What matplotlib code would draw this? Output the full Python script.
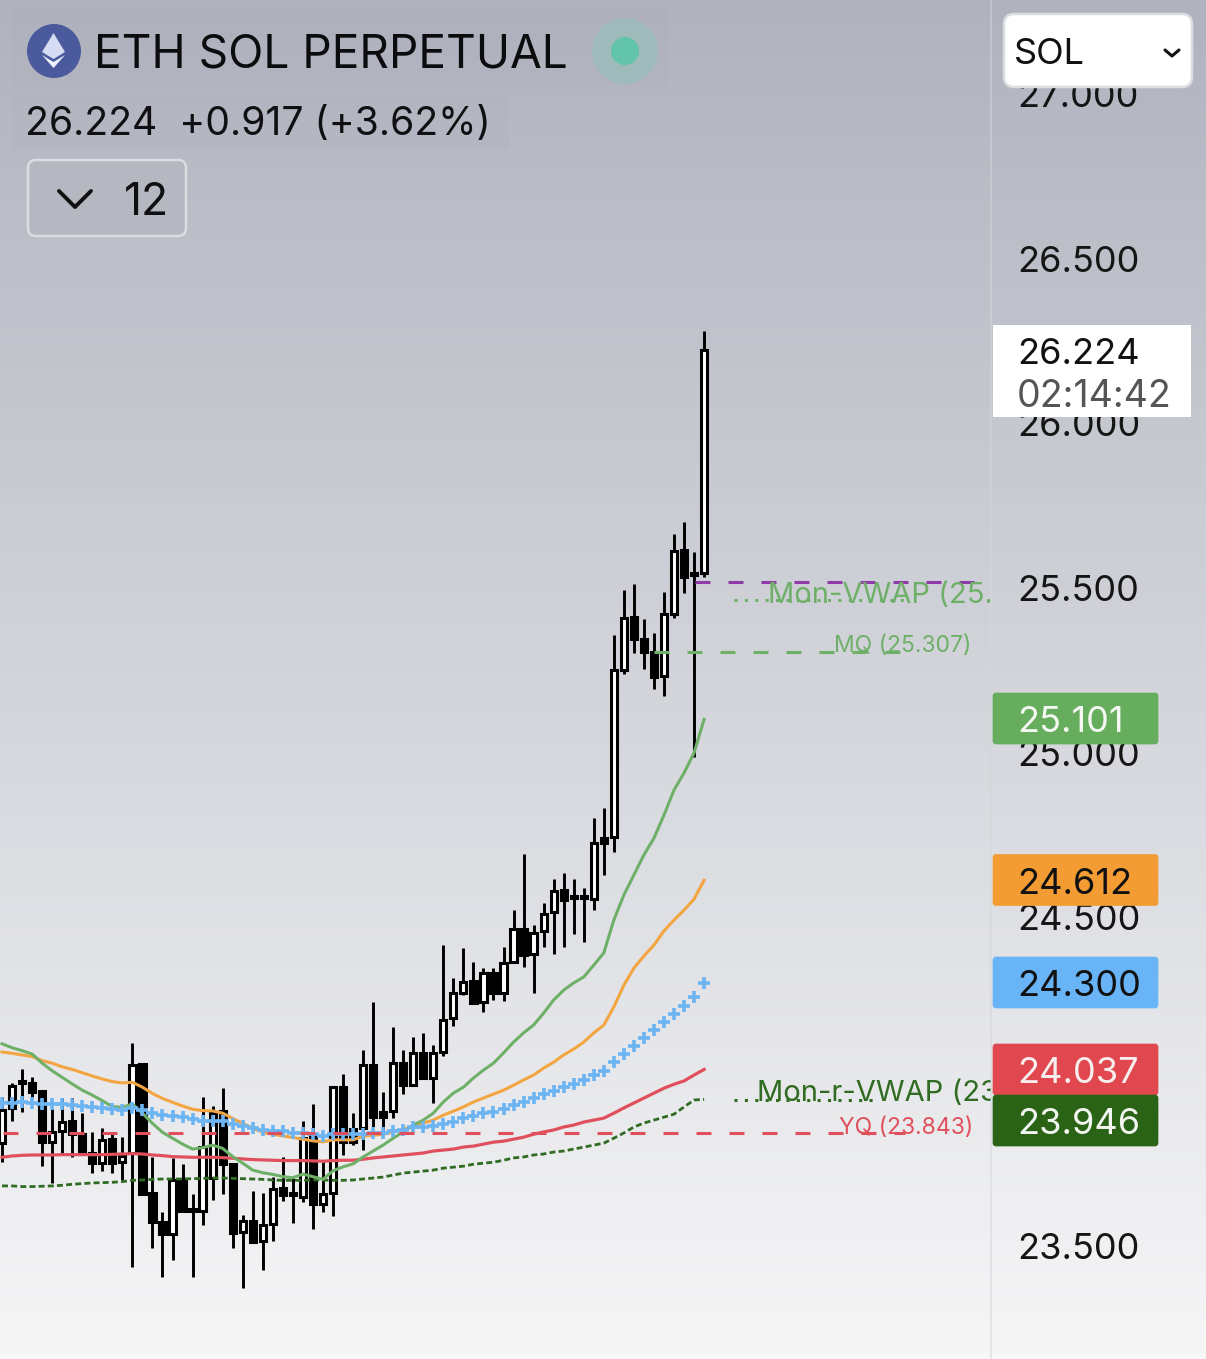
import numpy as np
import matplotlib
matplotlib.use('Agg')
import matplotlib.pyplot as plt
from matplotlib.patches import Circle, FancyBboxPatch, Polygon, Rectangle

plt.rcParams['font.family'] = ['Inter', 'DejaVu Sans']

# candles, oldest first (price)
opens = [23.813, 23.920, 24.002, 23.996, 23.971, 23.816, 23.850, 23.880, 23.840, 23.783,
         23.752, 23.825, 23.755, 23.783, 24.053, 23.661, 23.573, 23.536, 23.704, 23.612,
         23.606, 23.707, 23.910, 23.749, 23.543, 23.576, 23.515, 23.567, 23.676, 23.661,
         23.649, 23.834, 23.628, 23.661, 23.983, 23.856, 23.859, 24.050, 23.908, 23.910,
         24.056, 23.989, 24.087, 24.011, 24.090, 24.193, 24.269, 24.306, 24.242, 24.330,
         24.269, 24.363, 24.464, 24.388, 24.458, 24.515, 24.582, 24.564, 24.564, 24.555,
         24.740, 24.743, 25.251, 25.412, 25.345, 25.306, 25.233, 25.421, 25.616, 25.546,
         25.546]
closes = [23.914, 23.987, 23.996, 23.968, 23.816, 23.847, 23.877, 23.840, 23.783, 23.752,
          23.822, 23.752, 23.774, 24.050, 23.658, 23.573, 23.536, 23.701, 23.606, 23.606,
          23.801, 23.904, 23.749, 23.540, 23.576, 23.512, 23.564, 23.673, 23.655, 23.655,
          23.828, 23.628, 23.658, 23.983, 23.816, 23.816, 24.050, 23.892, 23.892, 24.056,
          23.989, 24.087, 24.011, 24.087, 24.187, 24.269, 24.303, 24.239, 24.330, 24.269,
          24.360, 24.464, 24.385, 24.452, 24.509, 24.579, 24.552, 24.558, 24.558, 24.725,
          24.725, 25.251, 25.409, 25.345, 25.306, 25.230, 25.421, 25.613, 25.534, 25.540,
          26.224]
highs = [23.953, 23.996, 24.038, 24.014, 23.974, 23.920, 23.950, 23.950, 23.904, 23.847,
         23.859, 23.840, 23.831, 24.117, 24.053, 23.771, 23.603, 23.768, 23.749, 23.658,
         23.953, 23.926, 23.980, 23.749, 23.594, 23.667, 23.661, 23.710, 23.771, 23.707,
         23.880, 23.932, 23.755, 23.983, 24.023, 23.904, 24.096, 24.242, 23.968, 24.166,
         24.096, 24.135, 24.148, 24.111, 24.415, 24.315, 24.406, 24.363, 24.345, 24.345,
         24.409, 24.521, 24.692, 24.476, 24.543, 24.616, 24.634, 24.616, 24.588, 24.801,
         24.832, 25.357, 25.494, 25.512, 25.406, 25.364, 25.488, 25.664, 25.701, 25.610,
         26.282]
lows = [23.756, 23.880, 23.908, 23.950, 23.743, 23.692, 23.777, 23.771, 23.780, 23.722,
        23.728, 23.722, 23.701, 23.436, 23.658, 23.494, 23.406, 23.457, 23.606, 23.406,
        23.564, 23.640, 23.658, 23.494, 23.372, 23.512, 23.427, 23.515, 23.637, 23.570,
        23.634, 23.552, 23.603, 23.591, 23.777, 23.807, 23.792, 23.862, 23.837, 23.889,
        23.962, 23.986, 24.011, 23.935, 24.078, 24.169, 24.263, 24.236, 24.211, 24.248,
        24.245, 24.360, 24.348, 24.269, 24.409, 24.388, 24.409, 24.448, 24.424, 24.521,
        24.628, 24.698, 25.239, 25.303, 25.254, 25.193, 25.172, 25.409, 25.485, 24.987,
        25.534]

# moving averages
ema_green = [24.115, 24.103, 24.094, 24.084, 24.056, 24.033, 24.013, 23.993, 23.974, 23.959,
             23.942, 23.924, 23.922, 23.932, 23.904, 23.873, 23.846, 23.828, 23.810, 23.795,
             23.799, 23.807, 23.797, 23.772, 23.752, 23.731, 23.723, 23.718, 23.711, 23.708,
             23.719, 23.711, 23.703, 23.729, 23.741, 23.750, 23.771, 23.789, 23.807, 23.828,
             23.847, 23.868, 23.883, 23.904, 23.938, 23.965, 23.983, 24.011, 24.035, 24.056,
             24.087, 24.120, 24.148, 24.172, 24.208, 24.248, 24.278, 24.300, 24.318, 24.354,
             24.391, 24.491, 24.567, 24.628, 24.689, 24.740, 24.810, 24.886, 24.938, 24.999,
             25.101]
ema_orange = [24.090, 24.086, 24.081, 24.076, 24.064, 24.056, 24.045, 24.037, 24.027, 24.017,
              24.008, 24.000, 23.996, 23.998, 23.983, 23.964, 23.949, 23.937, 23.926, 23.916,
              23.912, 23.911, 23.904, 23.888, 23.873, 23.858, 23.846, 23.840, 23.835, 23.830,
              23.825, 23.820, 23.817, 23.823, 23.823, 23.823, 23.834, 23.837, 23.840, 23.847,
              23.856, 23.862, 23.874, 23.883, 23.898, 23.910, 23.923, 23.938, 23.950, 23.962,
              23.974, 23.989, 24.005, 24.020, 24.041, 24.059, 24.081, 24.099, 24.120, 24.148,
              24.172, 24.227, 24.293, 24.345, 24.382, 24.415, 24.458, 24.491, 24.521, 24.555,
              24.612]
ema_blue = [23.934, 23.934, 23.937, 23.936, 23.933, 23.932, 23.932, 23.929, 23.926, 23.923,
            23.921, 23.918, 23.914, 23.919, 23.914, 23.906, 23.899, 23.895, 23.891, 23.885,
            23.880, 23.880, 23.880, 23.871, 23.865, 23.858, 23.853, 23.851, 23.849, 23.843,
            23.843, 23.841, 23.836, 23.840, 23.840, 23.840, 23.840, 23.844, 23.844, 23.850,
            23.853, 23.862, 23.862, 23.865, 23.871, 23.877, 23.889, 23.895, 23.904, 23.907,
            23.916, 23.929, 23.938, 23.950, 23.962, 23.971, 23.983, 23.992, 24.005, 24.020,
            24.032, 24.059, 24.084, 24.108, 24.132, 24.157, 24.181, 24.205, 24.230, 24.257,
            24.300]
ema_red = [23.770, 23.774, 23.776, 23.777, 23.777, 23.777, 23.778, 23.778, 23.778, 23.778,
           23.778, 23.779, 23.780, 23.781, 23.780, 23.777, 23.775, 23.772, 23.771, 23.770,
           23.770, 23.770, 23.769, 23.767, 23.765, 23.763, 23.762, 23.761, 23.760, 23.760,
           23.760, 23.759, 23.758, 23.760, 23.761, 23.761, 23.764, 23.768, 23.771, 23.774,
           23.777, 23.780, 23.783, 23.789, 23.792, 23.795, 23.801, 23.804, 23.810, 23.816,
           23.819, 23.825, 23.831, 23.840, 23.847, 23.853, 23.862, 23.868, 23.877, 23.883,
           23.889, 23.904, 23.920, 23.935, 23.950, 23.965, 23.980, 23.992, 24.002, 24.020,
           24.037]
vwap_dark = [23.683, 23.683, 23.681, 23.681, 23.682, 23.683, 23.685, 23.688, 23.690, 23.692,
             23.693, 23.694, 23.696, 23.700, 23.701, 23.703, 23.704, 23.704, 23.704, 23.705,
             23.706, 23.707, 23.707, 23.706, 23.705, 23.704, 23.703, 23.701, 23.700, 23.700,
             23.700, 23.701, 23.701, 23.700, 23.700, 23.701, 23.704, 23.707, 23.710, 23.716,
             23.722, 23.725, 23.728, 23.731, 23.737, 23.740, 23.743, 23.749, 23.752, 23.755,
             23.761, 23.768, 23.771, 23.777, 23.780, 23.786, 23.789, 23.795, 23.801, 23.807,
             23.813, 23.828, 23.844, 23.862, 23.874, 23.883, 23.892, 23.901, 23.923, 23.944,
             23.946]

# levels
mon_vwap_level = 25.518
mon_vwap_dots = 25.464
mq_level = 25.307
yq_level = 23.843
mon_r_level = 23.946

# price axis
price_ticks = [23.5, 24.0, 24.5, 25.0, 25.5, 26.0, 26.5, 27.0]
price_labels = ['23.500', '24.000', '24.500', '25.000', '25.500', '26.000', '26.500', '27.000']

badge_labels = ['25.101', '24.612', '24.300', '24.037', '23.946']
badge_centers = [718.5, 880, 982.5, 1069.5, 1120.5]
badge_colors = ['#66ad5d', '#f39c34', '#69b4f7', '#e0474f', '#2a6316']
badge_text = ['#f4f7f2', '#111111', '#111111', '#f7eeee', '#f2f5f0']

C_GREEN = '#6fb069'
C_ORANGE = '#f2a540'
C_BLUE = '#6db4f2'
C_RED = '#e0505c'
C_DARK = '#2f6b20'
C_PURPLE = '#8e3ba8'

fig = plt.figure(figsize=(12.06, 13.59), dpi=100)
ax = fig.add_axes([0, 0, 1, 1], zorder=1)

idx = np.arange(len(opens))
ax.set_xlim(-0.2, 120.04)
ax.set_ylim(23.157, 27.287)

# background gradient
grad = np.linspace(0, 1, 256)[:, None]
cols = np.zeros((256, 1, 3))
for i, (a, b) in enumerate([(176, 246), (179, 246), (190, 247)]):
    cols[:, 0, i] = (a + (b - a) * grad[:, 0]) / 255
ax.imshow(cols, extent=[-0.2, 120.04, 23.157, 27.287], origin='upper', aspect='auto', zorder=0)

for s in ax.spines.values():
    s.set_visible(False)
ax.set_xticks([])
ax.yaxis.tick_right()
ax.set_yticks(price_ticks)
ax.set_yticklabels(price_labels)
ax.tick_params(axis='y', length=0, pad=-136, labelsize=26, labelcolor='#151515')

# candles
opens_a, closes_a = np.array(opens), np.array(closes)
up = closes_a > opens_a
ax.vlines(idx, lows, highs, color='black', linewidth=2.1, zorder=2)
bottoms = np.minimum(opens_a, closes_a)
heights = np.abs(closes_a - opens_a)
ax.bar(idx[up], heights[up], bottom=bottoms[up], width=0.62, color='white',
       edgecolor='black', linewidth=2.2, zorder=3)
ax.bar(idx[~up], heights[~up], bottom=bottoms[~up], width=0.62, color='black',
       edgecolor='black', linewidth=2.2, zorder=3)

# moving averages
ax.plot(idx, vwap_dark, color=C_DARK, lw=2.0, dashes=(2.15, 1.15), zorder=4)
ax.plot(idx, ema_red, color=C_RED, lw=2.3, zorder=4)
ax.plot(idx, ema_orange, color=C_ORANGE, lw=2.2, zorder=4)
ax.plot(idx, ema_green, color=C_GREEN, lw=2.2, zorder=4)
ax.plot(idx, ema_blue, color=C_BLUE, lw=0, marker='+', ms=8, mew=2.6, zorder=4)

# level lines and labels
ax.plot([69.1, 97], [mon_vwap_level] * 2, color=C_PURPLE, lw=2.2, dashes=(4.9, 5.9), zorder=4)
ax.plot([65.0, 89.5], [mq_level] * 2, color=C_GREEN, lw=2.2, dashes=(4.9, 5.9), zorder=4)
ax.plot([0.1, 90], [yq_level] * 2, color=C_RED, lw=2.2, dashes=(4.9, 5.9), zorder=4)
ax.plot([73, 90], [mon_vwap_dots] * 2, color=C_GREEN, lw=2.2, dashes=(1, 2.4), zorder=4)
ax.plot([73, 87], [mon_r_level - 0.003] * 2, color=C_DARK, lw=2.2, dashes=(1, 2.4), zorder=4)

clip = Rectangle((-0.2, 23), 98.8, 5, transform=ax.transData)
t = ax.text(76.4, 25.478, 'Mon-VWAP (25.518', color=C_GREEN, fontsize=21, va='center',
            zorder=5, clip_on=True)
t.set_clip_path(clip)
t = ax.text(75.3, 23.963, 'Mon-r-VWAP (23.946', color=C_DARK, fontsize=21, va='center',
            zorder=5, clip_on=True)
t.set_clip_path(clip)
ax.text(83, 25.323, 'MQ (25.307)', color=C_GREEN, fontsize=16.5, va='center', zorder=5)
ax.text(83.4, 23.859, 'YQ (23.843)', color=C_RED, fontsize=16.5, va='center', zorder=5)

# screen chrome in pixel coordinates
ui = fig.add_axes([0, 0, 1, 1], zorder=2)
ui.set_xlim(0, 1206)
ui.set_ylim(1359, 0)
ui.axis('off')
ui.patch.set_visible(False)

ui.plot([991, 991], [0, 1359], color='#d4d6da', lw=1.2, alpha=0.6, zorder=1)

ui.add_patch(Rectangle((12, 10), 656, 80, color='#a9acb6', alpha=0.15, lw=0))
ui.add_patch(Rectangle((12, 93), 498, 57, color='#a9acb6', alpha=0.15, lw=0))
ui.add_patch(Circle((54, 51), 27, color='#4a5a9c', lw=0))
ui.add_patch(Polygon([(53.5, 33), (65, 52), (53.5, 59), (42, 52)], color='#d5dcf3', lw=0))
ui.add_patch(Polygon([(42, 55), (53.5, 62), (65, 55), (53.5, 68)], color='#eef1fb', lw=0))
ui.add_patch(Circle((625, 51), 33, color='#9fbabb', lw=0))
ui.add_patch(Circle((625, 51), 14, color='#62c4a8', lw=0))

ui.text(94, 56, 'ETH SOL PERPETUAL', fontsize=33.2, color='#0c0c0e', va='center')
ui.text(25, 124, '26.224  +0.917 (+3.62%)', fontsize=28.2, color='#101012', va='center')

ui.add_patch(FancyBboxPatch((33, 165), 148, 66, boxstyle='round,pad=5,rounding_size=8',
                            fc='#b5b8c0', ec='#dcdde0', lw=1.8))
ui.plot([59, 75, 91], [191, 207, 191], color='#111111', lw=2.8, solid_capstyle='round')
ui.text(124, 203, '12', fontsize=32, color='#101012', va='center')

ui.add_patch(FancyBboxPatch((1009, 19), 178, 63, boxstyle='round,pad=5,rounding_size=10',
                            fc='white', ec='#dcdde0', lw=1.8))
ui.text(1014, 54, 'SOL', fontsize=26, color='#111111', va='center')
ui.plot([1165, 1172, 1179], [50, 56, 50], color='#111111', lw=2.2, solid_capstyle='round')

ui.add_patch(Rectangle((993, 325), 198, 92, color='white', lw=0))
ui.text(1017, 354, '26.224', fontsize=26, color='#111111', va='center')
ui.text(1017, 397, '02:14:42', fontsize=27, color='#555555', va='center')

for lab, yc, col, tc in zip(badge_labels, badge_centers, badge_colors, badge_text):
    ui.add_patch(FancyBboxPatch((996, yc - 22.5), 159, 45, boxstyle='round,pad=3,rounding_size=3',
                                fc=col, ec=col, lw=0.5))
    ui.text(1017, yc + 4, lab, fontsize=26, color=tc, va='center')

fig.savefig('out.png', dpi=100)
